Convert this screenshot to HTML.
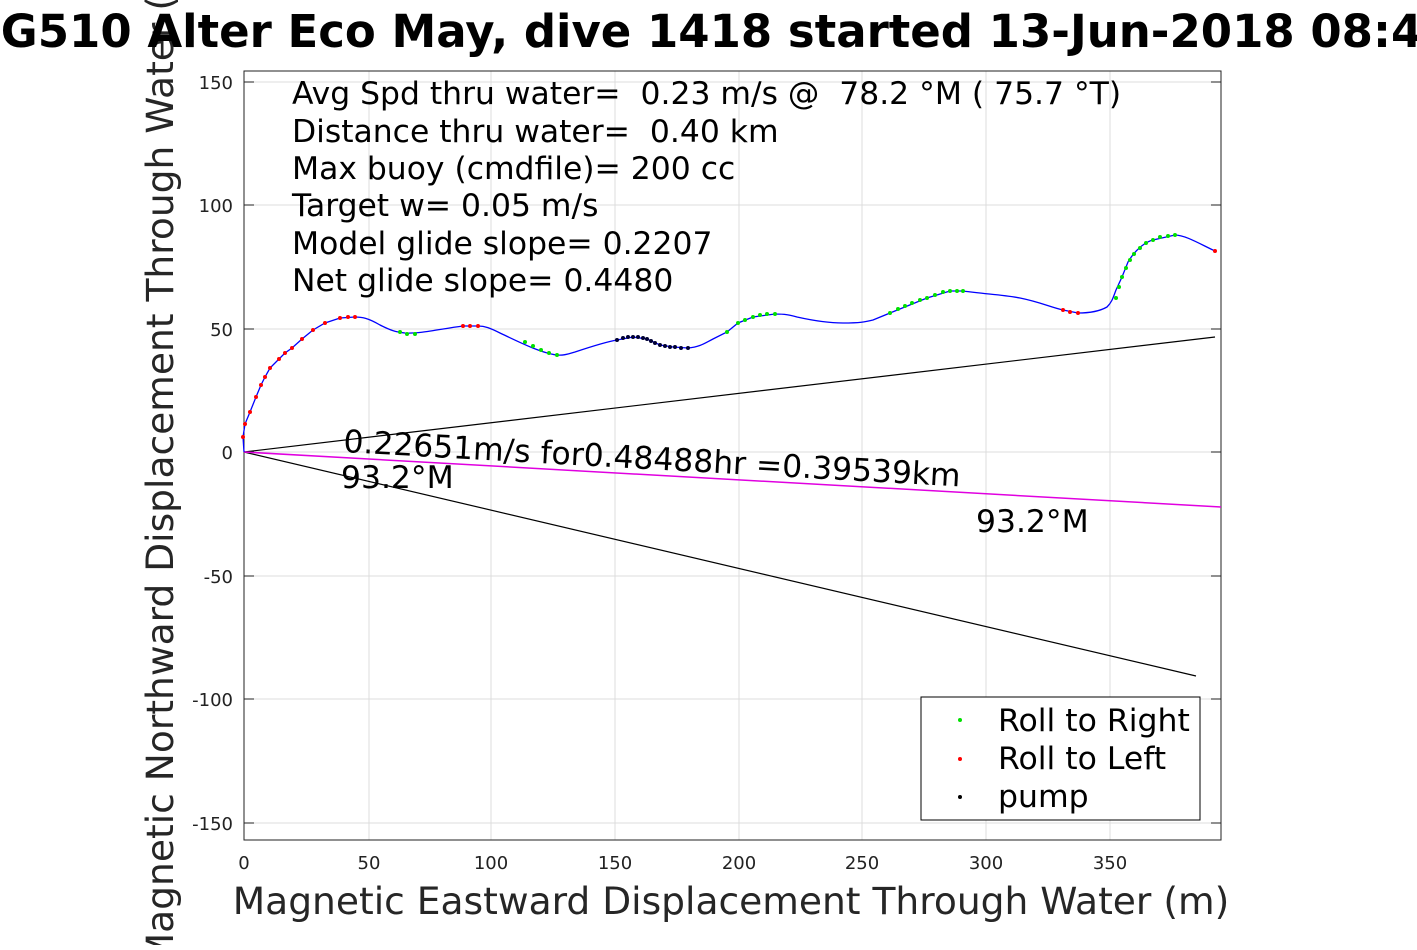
<!DOCTYPE html>
<html><head><style>body{margin:0;background:#fff}text{white-space:pre}</style></head><body>
<svg width="1417" height="945" xmlns="http://www.w3.org/2000/svg" font-family="DejaVu Sans, Liberation Sans, sans-serif">
<rect width="1417" height="945" fill="#fff"/>
<g stroke="#dcdcdc" stroke-width="1">
<line x1="369" y1="71" x2="369" y2="840"/><line x1="491" y1="71" x2="491" y2="840"/><line x1="615" y1="71" x2="615" y2="840"/><line x1="739" y1="71" x2="739" y2="840"/><line x1="862" y1="71" x2="862" y2="840"/><line x1="986" y1="71" x2="986" y2="840"/><line x1="1110" y1="71" x2="1110" y2="840"/>
<line x1="244" y1="82" x2="1221" y2="82"/><line x1="244" y1="205" x2="1221" y2="205"/><line x1="244" y1="329" x2="1221" y2="329"/><line x1="244" y1="452" x2="1221" y2="452"/><line x1="244" y1="576" x2="1221" y2="576"/><line x1="244" y1="699" x2="1221" y2="699"/><line x1="244" y1="823" x2="1221" y2="823"/>
</g>
<rect x="244" y="71" width="977" height="769" fill="none" stroke="#222" stroke-width="1"/>
<g stroke="#222"><line x1="244" y1="82" x2="254" y2="82"/><line x1="244" y1="205" x2="254" y2="205"/><line x1="244" y1="329" x2="254" y2="329"/><line x1="244" y1="452" x2="254" y2="452"/><line x1="244" y1="576" x2="254" y2="576"/><line x1="244" y1="699" x2="254" y2="699"/><line x1="244" y1="823" x2="254" y2="823"/>
<line x1="1211" y1="82" x2="1221" y2="82"/><line x1="1211" y1="205" x2="1221" y2="205"/><line x1="1211" y1="329" x2="1221" y2="329"/><line x1="1211" y1="452" x2="1221" y2="452"/><line x1="1211" y1="576" x2="1221" y2="576"/><line x1="1211" y1="699" x2="1221" y2="699"/><line x1="1211" y1="823" x2="1221" y2="823"/></g>
<g font-size="18" fill="#222" text-anchor="end">
<text x="233" y="89">150</text><text x="233" y="212">100</text><text x="233" y="336">50</text><text x="233" y="459">0</text><text x="233" y="583">-50</text><text x="233" y="706">-100</text><text x="233" y="830">-150</text></g>
<g font-size="18" fill="#222" text-anchor="middle">
<text x="244" y="869">0</text><text x="369" y="869">50</text><text x="491" y="869">100</text><text x="615" y="869">150</text><text x="739" y="869">200</text><text x="862" y="869">250</text><text x="986" y="869">300</text><text x="1110" y="869">350</text></g>
<line x1="244" y1="452" x2="1215" y2="337" stroke="#000" stroke-width="1.2"/>
<line x1="244" y1="452" x2="1196" y2="676" stroke="#000" stroke-width="1.2"/>
<line x1="244" y1="452" x2="1221" y2="507" stroke="#e000e0" stroke-width="1.5"/>
<path fill="none" stroke="#0000ff" stroke-width="1.3" d="M244,452 L243,437 L245,424 L250,412 L256,397 L261,385 L265,377 L270,368 L279,359 L285,353 L292,348 L302,339 L313,330 L325,323 L340,318 L355,317 C362,317 368,318 380,325 C390,330 395,332 405,333 C420,334 440,329 463,326 L478,326 C485,326 490,328 500,333 C515,340 540,353 557,355 C562,355.5 565,355 575,352 C590,347 605,342 617,340 L633,337 L647,339 L660,345 L673,347 L688,348 C700,347 705,343 713,339 L727,332 L738,323 L753,317 L775,314 C785,314 790,315 797,317 C815,321 830,323 843,323 C860,323 865,322 873,320 L890,313 L927,298 L950,291 L963,291 C985,294 1005,295 1020,298 C1040,302 1050,307 1063,310 L1078,313 C1090,313 1100,311 1107,307 C1112,302 1113,298 1116,290 L1122,277 L1128,262 C1135,250 1145,242 1153,240 L1175,235 C1185,235 1200,244 1215,251"/>
<g fill="#ff0000">
<circle cx="243" cy="437" r="2"/><circle cx="245" cy="424" r="2"/><circle cx="250" cy="412" r="2"/><circle cx="256" cy="397" r="2"/><circle cx="261" cy="385" r="2"/><circle cx="265" cy="377" r="2"/><circle cx="270" cy="368" r="2"/><circle cx="279" cy="359" r="2"/><circle cx="285" cy="353" r="2"/><circle cx="292" cy="348" r="2"/><circle cx="302" cy="339" r="2"/><circle cx="313" cy="330" r="2"/><circle cx="325" cy="323" r="2"/><circle cx="340" cy="318" r="2"/><circle cx="348" cy="317" r="2"/><circle cx="355" cy="317" r="2"/>
<circle cx="463" cy="326" r="2"/><circle cx="470" cy="326" r="2"/><circle cx="478" cy="326" r="2"/>
<circle cx="1063" cy="310" r="2"/><circle cx="1070" cy="312" r="2"/><circle cx="1078" cy="313" r="2"/><circle cx="1215" cy="251" r="2"/></g>
<g fill="#00e000">
<circle cx="400" cy="332" r="2"/><circle cx="407" cy="334" r="2"/><circle cx="415" cy="334" r="2"/>
<circle cx="525" cy="342" r="2"/><circle cx="533" cy="346" r="2"/><circle cx="541" cy="350" r="2"/><circle cx="549" cy="353" r="2"/><circle cx="557" cy="355" r="2"/>
<circle cx="727" cy="332" r="2"/><circle cx="738" cy="323" r="2"/><circle cx="745" cy="320" r="2"/><circle cx="753" cy="317" r="2"/><circle cx="760" cy="315" r="2"/><circle cx="767" cy="314" r="2"/><circle cx="775" cy="314" r="2"/>
<circle cx="890" cy="313" r="2"/><circle cx="898" cy="309" r="2"/><circle cx="905" cy="306" r="2"/><circle cx="912" cy="303" r="2"/><circle cx="920" cy="300" r="2"/><circle cx="927" cy="298" r="2"/><circle cx="935" cy="295" r="2"/><circle cx="943" cy="292" r="2"/><circle cx="950" cy="291" r="2"/><circle cx="957" cy="291" r="2"/><circle cx="963" cy="291" r="2"/>
<circle cx="1116" cy="298" r="2"/><circle cx="1119" cy="287" r="2"/><circle cx="1122" cy="277" r="2"/><circle cx="1126" cy="268" r="2"/><circle cx="1130" cy="260" r="2"/><circle cx="1134" cy="254" r="2"/><circle cx="1140" cy="248" r="2"/><circle cx="1146" cy="243" r="2"/><circle cx="1153" cy="240" r="2"/><circle cx="1160" cy="237" r="2"/><circle cx="1168" cy="236" r="2"/><circle cx="1175" cy="235" r="2"/></g>
<g fill="#000033">
<circle cx="617" cy="340" r="2"/><circle cx="623" cy="338" r="2"/><circle cx="628" cy="337" r="2"/><circle cx="633" cy="337" r="2"/><circle cx="638" cy="337" r="2"/><circle cx="643" cy="338" r="2"/><circle cx="647" cy="339" r="2"/><circle cx="651" cy="341" r="2"/><circle cx="655" cy="343" r="2"/><circle cx="660" cy="345" r="2"/><circle cx="665" cy="346" r="2"/><circle cx="670" cy="347" r="2"/><circle cx="675" cy="347" r="2"/><circle cx="681" cy="348" r="2"/><circle cx="688" cy="348" r="2"/></g>
<g font-size="31.4" fill="#000">
<text x="292" y="104">Avg Spd thru water=  0.23 m/s @  78.2 °M ( 75.7 °T)</text>
<text x="292" y="142">Distance thru water=  0.40 km</text>
<text x="292" y="179">Max buoy (cmdfile)= 200 cc</text>
<text x="292" y="216">Target w= 0.05 m/s</text>
<text x="292" y="254">Model glide slope= 0.2207</text>
<text x="292" y="291">Net glide slope= 0.4480</text>
<text transform="translate(343,452) rotate(3.2)">0.22651m/s for0.48488hr =0.39539km</text>
<text x="341" y="488">93.2°M</text>
<text x="976" y="532">93.2°M</text>
</g>
<rect x="921" y="697" width="279" height="123" fill="#fff" stroke="#000"/>
<circle cx="960" cy="720" r="2" fill="#00e000"/><circle cx="960" cy="759" r="2" fill="#ff0000"/><circle cx="960" cy="797" r="2" fill="#000"/>
<g font-size="31.5" fill="#000"><text x="998" y="731">Roll to Right</text><text x="998" y="769">Roll to Left</text><text x="998" y="807">pump</text></g>
<text x="731" y="914" font-size="37.6" fill="#262626" text-anchor="middle">Magnetic Eastward Displacement Through Water (m)</text>
<text transform="translate(173,455) rotate(-90)" font-size="37.6" fill="#262626" text-anchor="middle">Magnetic Northward Displacement Through Water (m)</text>
<text x="711" y="47" font-size="45" font-weight="bold" fill="#000" text-anchor="middle">SG510 Alter Eco May, dive 1418 started 13-Jun-2018 08:46</text>
</svg>
</body></html>
